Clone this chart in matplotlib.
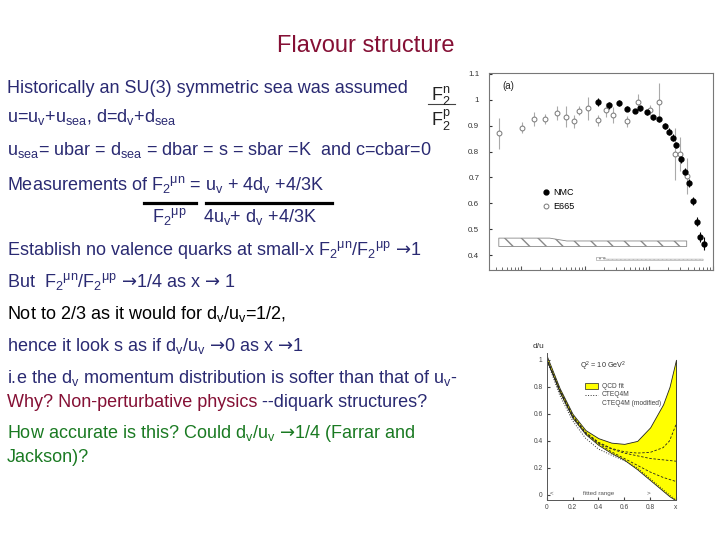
import numpy as np
import matplotlib
matplotlib.use("Agg")
import matplotlib.pyplot as plt
from matplotlib.lines import Line2D
from matplotlib.patches import Rectangle

plt.rcParams['font.family'] = ['Liberation Sans', 'DejaVu Sans']
plt.rcParams['mathtext.fontset'] = 'custom'
plt.rcParams['mathtext.rm'] = 'Liberation Sans'
plt.rcParams['mathtext.it'] = 'Liberation Sans:italic'
plt.rcParams['mathtext.sf'] = 'DejaVu Sans'
plt.rcParams['mathtext.default'] = 'regular'

NAVY, RED, GREEN = "#2a2a72", "#851035", "#1a7a22"
AR = r"$\mathsf{→}$"

# --- F2n/F2p data (NMC, E665) ---
nmc_x = [0.0159, 0.0239, 0.0338, 0.045, 0.0594, 0.073, 0.0927, 0.114, 0.141,
         0.175, 0.202, 0.234, 0.267, 0.316, 0.369, 0.416, 0.481, 0.562, 0.634, 0.715]
nmc_y = [0.990, 0.978, 0.987, 0.965, 0.958, 0.967, 0.952, 0.932, 0.925,
         0.899, 0.877, 0.854, 0.825, 0.770, 0.722, 0.680, 0.609, 0.529, 0.471, 0.445]
nmc_e = [0.015, 0.012, 0.012, 0.010, 0.008, 0.010, 0.010, 0.010, 0.010,
         0.012, 0.012, 0.012, 0.012, 0.015, 0.015, 0.015, 0.015, 0.018, 0.020, 0.025]
e665_x = [0.00046, 0.00105, 0.0016, 0.0024, 0.0036, 0.0051, 0.0068, 0.0082, 0.0113,
          0.0159, 0.0214, 0.0272, 0.045, 0.068, 0.103, 0.141, 0.255, 0.308, 0.392]
e665_y = [0.870, 0.892, 0.925, 0.925, 0.948, 0.935, 0.916, 0.958, 0.967,
          0.920, 0.961, 0.941, 0.916, 0.993, 0.961, 0.993, 0.791, 0.791, 0.706]
e665_e = [0.060, 0.022, 0.027, 0.020, 0.026, 0.040, 0.026, 0.016, 0.045,
          0.022, 0.026, 0.032, 0.020, 0.030, 0.020, 0.070, 0.100, 0.065, 0.070]
sys1_x = [0.00045, 0.0028, 0.0052, 0.388]
sys1_hi = [0.466, 0.466, 0.455, 0.455]
sys1_lo = [0.434, 0.434, 0.434, 0.434]
sys2_x = [0.0152, 0.0205, 0.021, 0.70]
sys2_hi = [0.392, 0.392, 0.385, 0.385]
sys2_lo = [0.379, 0.379, 0.379, 0.379]

# --- d/u at Q^2 = 10 GeV^2 ---
du_x = [0.0, 0.1, 0.2, 0.3, 0.4, 0.5, 0.6, 0.7, 0.8, 0.9, 0.95, 1.0]
band_hi = [1.03, 0.79, 0.60, 0.48, 0.42, 0.387, 0.378, 0.40, 0.50, 0.67, 0.80, 1.0]
band_lo = [1.00, 0.76, 0.57, 0.45, 0.37, 0.31, 0.26, 0.19, 0.11, 0.03, -0.01, -0.04]
cteq4m = [1.0, 0.74, 0.55, 0.42, 0.34, 0.295, 0.255, 0.20, 0.12, 0.04, 0.0, -0.04]
mod_a = [1.01, 0.78, 0.59, 0.465, 0.39, 0.345, 0.32, 0.31, 0.315, 0.35, 0.40, 0.52]
mod_b = [1.01, 0.78, 0.585, 0.46, 0.385, 0.34, 0.31, 0.29, 0.27, 0.26, 0.255, 0.25]
mod_c = [1.0, 0.77, 0.58, 0.455, 0.38, 0.32, 0.27, 0.22, 0.17, 0.13, 0.115, 0.10]


def ty(px):
    return 1 - px / 540.0


def tx(px):
    return px / 720.0


fig = plt.figure(figsize=(7.2, 5.4), dpi=100)

fig.text(tx(366), ty(52.5), "Flavour structure", ha="center", va="baseline",
         fontsize=17, color=RED)

BODY = 13
lines = [
    (93, "Historically an SU(3) symmetric sea was assumed", NAVY),
    (122, "u=u$_v$+u$_{sea}$, d=d$_v$+d$_{sea}$", NAVY),
    (155, "u$_{sea}$= ubar = d$_{sea}$ = dbar = s = sbar =K  and c=cbar=0", NAVY),
    (190, "Measurements of F$_2{}^{μn}$ = u$_v$ + 4d$_v$ +4/3K", NAVY),
    (255, "Establish no valence quarks at small-x F$_2{}^{μn}$/F$_2{}^{μp}$ " + AR + "1", NAVY),
    (287, "But  F$_2{}^{μn}$/F$_2{}^{μp}$ " + AR + "1/4 as x " + AR + " 1", NAVY),
    (318.5, "Not to 2/3 as it would for d$_v$/u$_v$=1/2,", "black"),
    (351.5, "hence it look s as if d$_v$/u$_v$ " + AR + "0 as x " + AR + "1", NAVY),
    (383.5, "i.e the d$_v$ momentum distribution is softer than that of u$_v$-", NAVY),
    (438.5, "How accurate is this? Could d$_v$/u$_v$ " + AR + "1/4 (Farrar and", GREEN),
    (461.5, "Jackson)?", GREEN),
]
for y, s, c in lines:
    fig.text(tx(7), ty(y), s, va="baseline", fontsize=BODY, color=c)

fig.text(tx(152), ty(222), "F$_2{}^{μp}$", va="baseline", fontsize=BODY, color=NAVY)
fig.text(tx(203), ty(222), "4u$_v$+ d$_v$ +4/3K", va="baseline", fontsize=BODY, color=NAVY)
fig.add_artist(Line2D([tx(144), tx(196)], [ty(202.5)] * 2, color="black", lw=2.3))
fig.add_artist(Line2D([tx(206), tx(332)], [ty(202.5)] * 2, color="black", lw=2.3))

t1 = fig.text(tx(7), ty(407), "Why? Non-perturbative physics", va="baseline",
              fontsize=BODY, color=RED)
r = fig.canvas.get_renderer()
bb = t1.get_window_extent(renderer=r)
fig.text(bb.x1 / fig.bbox.width, ty(407), " --diquark structures?", va="baseline",
         fontsize=BODY, color=NAVY)

# F2n / F2p label
fig.text(tx(441), ty(100), "F$_2^n$", ha="center", va="baseline", fontsize=13, color="#222222")
fig.text(tx(441), ty(126), "F$_2^p$", ha="center", va="baseline", fontsize=13, color="#222222")
fig.add_artist(Line2D([tx(428), tx(455)], [ty(104)] * 2, color="#444444", lw=0.8))

# ---- top-right plot ----
ax = fig.add_axes([tx(489), ty(270), 224 / 720, 197 / 540])
ax.set_xscale("log")
ax.set_xlim(10 ** -3.5, 1)
ax.set_ylim(0.343, 1.103)
ax.fill_between(sys1_x, sys1_lo, sys1_hi, facecolor="none", edgecolor="#888888",
                hatch="\\\\", lw=0.6)
ax.fill_between(sys2_x, sys2_lo, sys2_hi, facecolor="none", edgecolor="#999999",
                hatch="....", lw=0.4)
ax.errorbar(e665_x, e665_y, yerr=e665_e, fmt="o", mfc="white", mec="#777777",
            ecolor="#aaaaaa", ms=3.5, mew=0.7, elinewidth=0.8)
ax.errorbar(nmc_x, nmc_y, yerr=nmc_e, fmt="o", color="black", ms=3.5, elinewidth=0.8)
handles = [Line2D([], [], ls="none", marker="o", color="black", ms=3.5),
           Line2D([], [], ls="none", marker="o", mfc="white", mec="#777777", ms=3.5, mew=0.7)]
ax.legend(handles, ["NMC", "E665"], loc="upper left", bbox_to_anchor=(0.2, 0.455),
          frameon=False, fontsize=6.5, handlelength=0.8, handletextpad=0.5,
          labelspacing=0.55)
ax.text(0.06, 0.92, "(a)", transform=ax.transAxes, fontsize=7, color="#222222")
ax.set_yticks([0.4, 0.5, 0.6, 0.7, 0.8, 0.9, 1.0, 1.1])
ax.set_yticklabels(["0.4", "0.5", "0.6", "0.7", "0.8", "0.9", "1", "1.1"])
ax.tick_params(axis="y", labelsize=5.8, direction="in", length=2, colors="#333333", pad=7)
ax.tick_params(axis="x", which="both", direction="in", labelbottom=False, length=3,
               colors="#555555")
ax.tick_params(axis="x", which="minor", length=2)
for s in ax.spines.values():
    s.set_color("#777777")
    s.set_linewidth(0.8)

# ---- bottom-right plot ----
bx = fig.add_axes([tx(546.7), ty(500), (676 - 546.7) / 720, (500 - 353) / 540])
bx.set_xlim(0, 1.0)
bx.set_ylim(-0.037, 1.05)
bx.fill_between(du_x, band_lo, band_hi, facecolor="#ffff00", edgecolor="#222222", lw=0.6)
bx.plot(du_x, cteq4m, ":", color="#333333", lw=0.7)
for m in (mod_a, mod_b, mod_c):
    bx.plot(du_x, m, "--", color="#222222", lw=0.6, dashes=(3, 2))
bx.add_patch(Rectangle((0.30, 0.785), 0.10, 0.04, facecolor="#ffff00",
                       edgecolor="#222222", lw=0.5))
bx.text(0.425, 0.805, "QCD fit", fontsize=4.8, color="#444444", va="center")
bx.plot([0.30, 0.40], [0.74, 0.74], ":", color="#333333", lw=0.7)
bx.text(0.425, 0.74, "CTEQ4M", fontsize=4.8, color="#444444", va="center")
bx.text(0.425, 0.68, "CTEQ4M (modified)", fontsize=4.8, color="#444444", va="center")
bx.text(0.44, 0.95, "Q$^2$ = 10 GeV$^2$", fontsize=5.2, color="#333333", ha="center",
        va="center")
bx.text(0.02, 0.012, "<", fontsize=4.5, color="#555555", va="center")
bx.text(0.77, 0.012, ">", fontsize=4.5, color="#555555", va="center")
bx.text(0.40, 0.012, "fitted range", fontsize=4.5, color="#555555", va="center",
        ha="center")
bx.text(-0.11, 1.02, "d/u", transform=bx.transAxes, fontsize=6, color="#333333",
        va="bottom")
bx.set_xticks([0, 0.2, 0.4, 0.6, 0.8, 1.0])
bx.set_xticklabels(["0", "0.2", "0.4", "0.6", "0.8", "x"])
bx.set_yticks([0, 0.2, 0.4, 0.6, 0.8, 1.0])
bx.set_yticklabels(["0", "0.2", "0.4", "0.6", "0.8", "1"])
bx.tick_params(labelsize=4.8, direction="in", length=2, colors="#444444", pad=3)
bx.spines["top"].set_visible(False)
bx.spines["right"].set_visible(False)
for s in ("left", "bottom"):
    bx.spines[s].set_color("#555555")
    bx.spines[s].set_linewidth(0.7)

fig.savefig("out.png", dpi=100)
